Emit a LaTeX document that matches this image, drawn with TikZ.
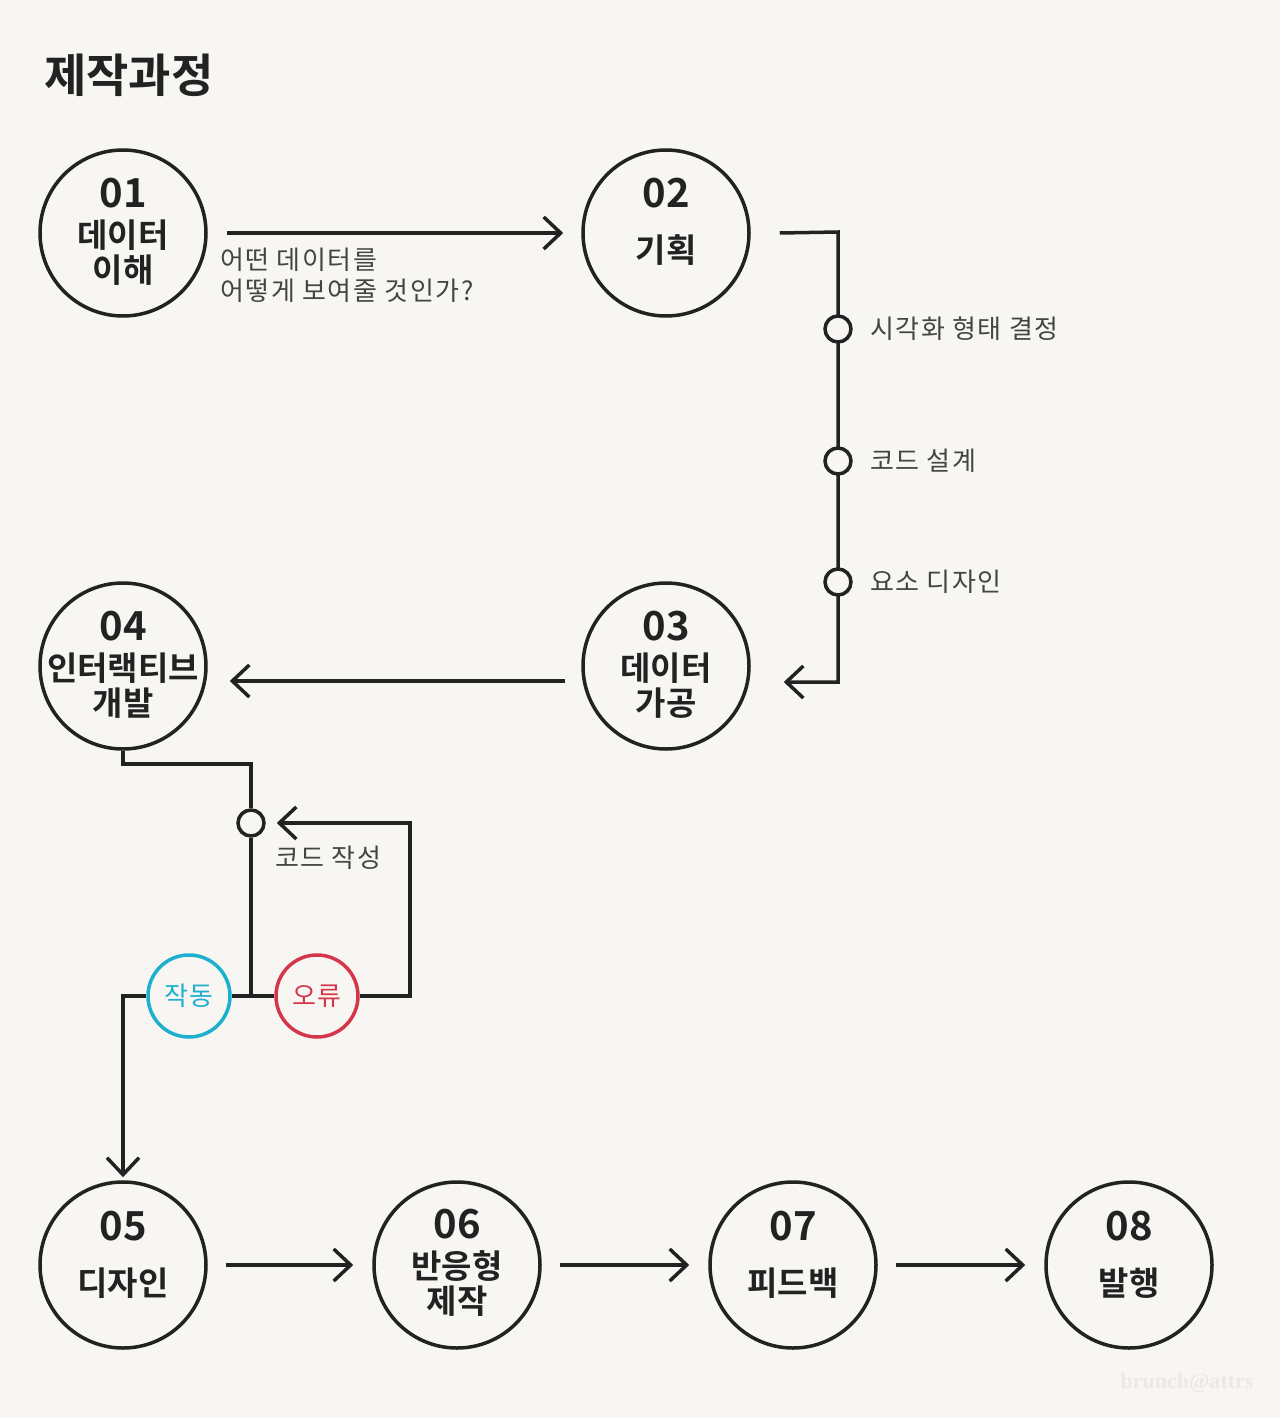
\documentclass[tikz,border=0pt]{standalone}
\usepackage{fontspec}
\setmainfont{Noto Sans CJK KR}[BoldFont={* Bold}]
\newfontfamily\notefont{Noto Sans CJK KR}[LetterSpace=6]
\newfontfamily\markfont{Liberation Serif}
\usetikzlibrary{arrows.meta,calc}

\definecolor{paper}{HTML}{F8F6F3}
\definecolor{ink}{HTML}{222222}
\definecolor{grayink}{HTML}{444444}
\definecolor{okcyan}{HTML}{1BB0CE}
\definecolor{errred}{HTML}{D5364A}
\definecolor{wmark}{HTML}{ECE9E5}

\tikzset{
  stage/.style={circle,draw=ink,line width=3.5pt,minimum size=166pt,inner sep=0pt},
  dot/.style={circle,draw=ink,fill=paper,line width=3.5pt,minimum size=26pt,inner sep=0pt},
  check/.style={circle,line width=3.5pt,minimum size=82pt,inner sep=0pt,fill=paper,font=\notefont\fontsize{26}{26}\selectfont},
  num/.style={font=\fontsize{40}{40}\selectfont\bfseries,text=ink,inner sep=0pt},
  stagetext/.style={font=\fontsize{33}{35}\selectfont\bfseries,text=ink,align=center,inner sep=0pt},
  note/.style={font=\notefont\fontsize{26}{31}\selectfont,text=grayink,inner sep=0pt,anchor=west,align=left},
  wire/.style={draw=ink,line width=3.5pt},
  flow/.style={wire,-{Straight Barb[length=17pt,width=32pt]}},
}

\begin{document}
\begin{tikzpicture}[x=1pt,y=-1pt]

% Page
\fill[paper] (0,0) rectangle (1280,1418);
\useasboundingbox (0,0) rectangle (1280,1418);

\node[font=\fontsize{46}{46}\selectfont\bfseries,text=ink,anchor=west,inner sep=0pt] (head) at (44,75) {제작과정};

% Stage circles
\node[stage] (s01) at (123,233) {};
\node[stage] (s02) at (666,233) {};
\node[stage] (s03) at (666,666) {};
\node[stage] (s04) at (123,666) {};
\node[stage] (s05) at (123,1265) {};
\node[stage] (s06) at (457,1265) {};
\node[stage] (s07) at (793,1265) {};
\node[stage] (s08) at (1129,1265) {};

% Stage numbers and names
\node[num] (n01) at (123,193) {01};
\node[stagetext] (t01) at (123,253) {데이터\\이해};
\node[num] (n02) at (666,193) {02};
\node[stagetext] (t02) at (666,250) {기획};
\node[num] (n03) at (666,626) {03};
\node[stagetext] (t03) at (666,686) {데이터\\가공};
\node[num] (n04) at (123,626) {04};
\node[stagetext] (t04) at (123,686) {인터랙티브\\개발};
\node[num] (n05) at (123,1226) {05};
\node[stagetext] (t05) at (123,1283) {디자인};
\node[num] (n06) at (457,1224) {06};
\node[stagetext] (t06) at (457,1284) {반응형\\제작};
\node[num] (n07) at (793,1226) {07};
\node[stagetext] (t07) at (793,1283) {피드백};
\node[num] (n08) at (1129,1226) {08};
\node[stagetext] (t08) at (1129,1283) {발행};

% 01 -> 02
\draw[flow,shorten <=19pt,shorten >=18pt] (s01.east) -- (s02.west);
\node[note] (q01) at (220,275) {어떤 데이터를\\어떻게 보여줄 것인가?};

% 02 -> 03 through the planning steps
\coordinate (c02) at (838,232);
\coordinate (c03) at (838,682);
\draw[flow] ([xshift=29pt]s02.east) -- (c02) -- (c03) -- ($(s03.east)+(33,16)$);
\foreach \y/\txt [count=\i] in {329/시각화 형태 결정, 461/코드 설계, 582/요소 디자인} {
  \node[dot] (plan\i) at (838,\y) {};
  \node[note] (planl\i) at (870,\y) {\txt};
}

% 03 -> 04
\draw[flow] ($(s03.west)+(-16,15)$) -- ($(s04.east)+(22,15)$);

% 04 -> code loop
\coordinate (k1) at (123,764);
\coordinate (k2) at (251,764);
\coordinate (jn) at (251,996);
\node[dot] (code) at (251,823) {};
\node[note] (codel) at (275,858) {코드 작성};
\node[check,draw=okcyan,text=okcyan] (ok) at (189,996) {작동};
\node[check,draw=errred,text=errred] (err) at (317,996) {오류};
\draw[wire] (s04.south) -- (k1) -- (k2) -- (code);
\draw[wire] (code) -- (jn);
\draw[wire] (ok) -- (err);

% error goes back to coding
\coordinate (e1) at (410,996);
\coordinate (e2) at (410,823);
\draw[flow] (err.east) -- (e1) -- (e2) -- ([xshift=11pt]code.east);

% working goes on to design
\coordinate (o1) at (123,996);
\draw[flow] (ok.west) -- (o1) -- ([yshift=3pt]s05.north);

% 05 -> 06 -> 07 -> 08
\foreach \a/\b in {s05/s06, s06/s07, s07/s08}
  \draw[flow,shorten <=18pt,shorten >=19pt] (\a) -- (\b);

\node[font=\markfont\bfseries\fontsize{22}{22}\selectfont,text=wmark] (brand) at (1187,1383) {brunch@attrs};

\end{tikzpicture}
\end{document}
